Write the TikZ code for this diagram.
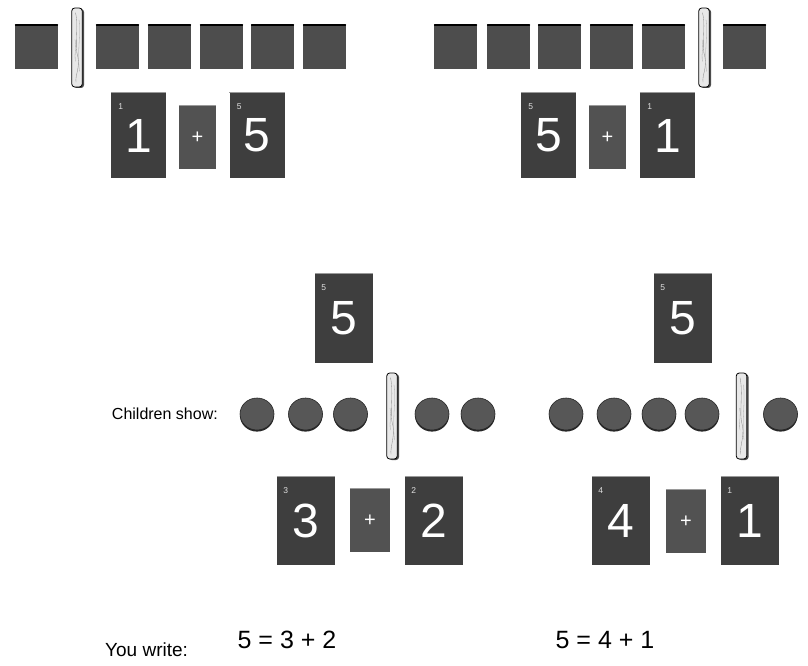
\documentclass[tikz,border=0pt]{standalone}
\usepackage{fontspec}
\setmainfont{Liberation Sans}
\usetikzlibrary{shapes.geometric,calc,shadows}
\definecolor{cardc}{HTML}{3E3E3E}
\definecolor{plusc}{HTML}{525252}
\definecolor{sqc}{HTML}{4D4D4D}
\definecolor{circc}{HTML}{575757}
\definecolor{stickc}{HTML}{E8E8E8}
\definecolor{edgec}{HTML}{9A9A9A}
\tikzset{
 numcard/.style={rectangle, fill=cardc, minimum width=55pt, minimum height=85pt, inner sep=0pt, text=white, font=\fontsize{48}{48}\selectfont},
 bigcard/.style={numcard, minimum width=58pt, minimum height=89pt},
 pluscard/.style={rectangle, fill=plusc, minimum width=37pt, minimum height=63pt, inner sep=0pt, text=white, font=\fontsize{20}{20}\selectfont},
 tile/.style={rectangle, fill=sqc, minimum width=43pt, minimum height=44pt, inner sep=0pt},
 counter/.style={ellipse, fill=circc, draw=black!85, line width=0.6pt, minimum width=34pt, minimum height=32pt, inner sep=0pt,
   drop shadow={shadow xshift=0pt, shadow yshift=-1.6pt, fill=black!85, opacity=1}},
 stickbox/.style={rectangle, rounded corners=3pt, fill=stickc, draw=black, line width=0.8pt, minimum width=10.5pt, inner sep=0pt,
   drop shadow={shadow xshift=1.8pt, shadow yshift=-1pt, fill=black!70, opacity=1}},
 smalldig/.style={text=white!88!black, font=\fontsize{8.5}{8.5}\selectfont, anchor=center, inner sep=0pt},
 cardedge/.style={draw=edgec, line width=1.3pt},
 tileedge/.style={draw=black, line width=1.6pt, line cap=round},
 label/.style={font=\fontsize{16}{16}\selectfont, inner sep=0pt},
 eqn/.style={font=\fontsize{25}{25}\selectfont, inner sep=0pt},
}
\newcommand\woodgrain[1]{%
 \draw[black!45, line width=0.35pt] ($(#1.north)+(-1.5,5)$) .. controls ($(#1.center)+(2,-22)$) and ($(#1.center)+(-3,-2)$) .. ($(#1.center)+(1,10)$) .. controls ($(#1.center)+(3,20)$) and ($(#1.south)+(-2,-12)$) .. ($(#1.south)+(-1,-5)$);
 \draw[black!35, line width=0.3pt] ($(#1.north)+(2,12)$) .. controls ($(#1.center)+(4,-12)$) and ($(#1.center)+(0,4)$) .. ($(#1.center)+(2.5,24)$);
 \draw[black!35, line width=0.3pt] ($(#1.center)+(-2,-8)$) .. controls ($(#1.center)+(0,-2)$) and ($(#1.center)+(-3,6)$) .. ($(#1.center)+(-1.5,14)$);
}
\newcommand\cardtop[1]{\draw[cardedge] (#1.north west) -- (#1.north east);}
\newcommand\tiletop[1]{\draw[tileedge] ($(#1.north west)+(0.8,0)$) -- ($(#1.north east)+(-0.8,0)$);}
\begin{document}
\begin{tikzpicture}[x=1pt,y=-1pt]
\useasboundingbox (0,0) rectangle (808,666);
% ---------- top left ----------
\foreach \n/\x in {a1/36.5,a2/117.5,a3/169.5,a4/221.5,a5/272.5,a6/324.5}{
  \node[tile] (\n) at (\x,47) {};
  \tiletop{\n}
}
\node[stickbox, minimum height=79pt] (sa) at (77,47.5) {};
\woodgrain{sa}
\node[numcard] (ca1) at (138.5,135.5) {1};
\node[pluscard] (pa) at (197.5,137.5) {+};
\node[numcard] (ca2) at (257,135.5) {5};
\foreach \c in {ca1,ca2,pa}{\cardtop{\c}}
\node[smalldig] (ka1) at ($(ca1.north west)+(10,14)$) {1};
\node[smalldig] (ka2) at ($(ca2.north west)+(10,14)$) {5};
% ---------- top right ----------
\foreach \n/\x in {b1/455.5,b2/508.5,b3/559.5,b4/611.5,b5/663.5,b6/744.5}{
  \node[tile] (\n) at (\x,47) {};
  \tiletop{\n}
}
\node[stickbox, minimum height=79pt] (sb) at (704,47.5) {};
\woodgrain{sb}
\node[numcard] (cb1) at (548.5,135.5) {5};
\node[pluscard] (pb) at (607.5,137.5) {+};
\node[numcard] (cb2) at (667.5,135.5) {1};
\foreach \c in {cb1,cb2,pb}{\cardtop{\c}}
\node[smalldig] (kb1) at ($(cb1.north west)+(10,14)$) {5};
\node[smalldig] (kb2) at ($(cb2.north west)+(10,14)$) {1};
% ---------- middle ----------
\node[bigcard] (cm1) at (344,318) {5};
\node[bigcard] (cm2) at (683,318) {5};
\foreach \c in {cm1,cm2}{\cardtop{\c}}
\node[smalldig] (km1) at ($(cm1.north west)+(9,14)$) {5};
\node[smalldig] (km2) at ($(cm2.north west)+(9,14)$) {5};
\node[label, anchor=east] (show) at (218,414) {Children show:};
\foreach \n/\x in {d1/257,d2/305.5,d3/350.5,d4/432,d5/478}{
  \node[counter] (\n) at (\x,414) {};
}
\node[stickbox, minimum height=86pt] (sc) at (392,416) {};
\woodgrain{sc}
\foreach \n/\x in {e1/566,e2/614,e3/659,e4/702,e5/780.5}{
  \node[counter] (\n) at (\x,414) {};
}
\node[stickbox, minimum height=86pt] (sd) at (741.5,416) {};
\woodgrain{sd}
% ---------- bottom cards ----------
\node[bigcard, minimum height=88pt] (cc1) at (306,521) {3};
\node[pluscard, minimum width=40pt] (pc) at (370,520.5) {+};
\node[bigcard, minimum height=88pt] (cc2) at (434,521) {2};
\node[bigcard, minimum height=88pt] (cd1) at (621,521) {4};
\node[pluscard, minimum width=40pt] (pd) at (686,521.5) {+};
\node[bigcard, minimum height=88pt] (cd2) at (750,521) {1};
\foreach \c in {cc1,pc,cc2,cd1,pd,cd2}{\cardtop{\c}}
\node[smalldig] (kc1) at ($(cc1.north west)+(9,14)$) {3};
\node[smalldig] (kc2) at ($(cc2.north west)+(9,14)$) {2};
\node[smalldig] (kd1) at ($(cd1.north west)+(9,14)$) {4};
\node[smalldig] (kd2) at ($(cd2.north west)+(9,14)$) {1};
% ---------- bottom text ----------
\node[label, anchor=west, font=\fontsize{19}{19}\selectfont] (write) at (105,650) {You write:};
\node[eqn] (eq1) at (287,640) {5 = 3 + 2};
\node[eqn] (eq2) at (605,640) {5 = 4 + 1};
\end{tikzpicture}
\end{document}
